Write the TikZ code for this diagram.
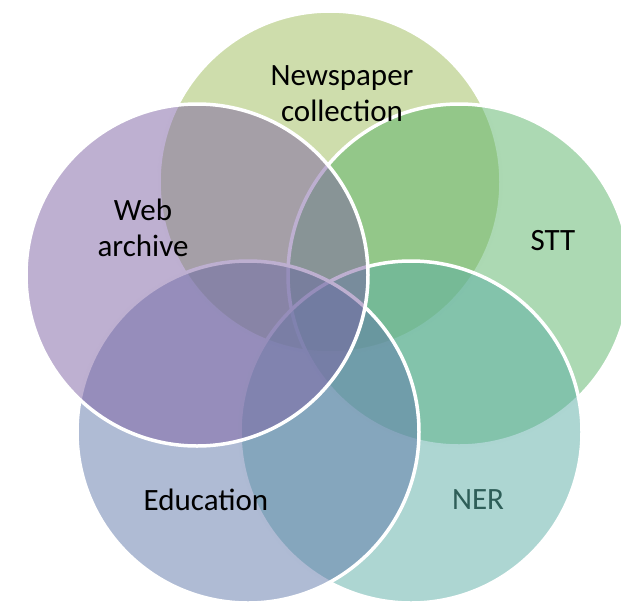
\documentclass[tikz,border=0pt]{standalone}
\usepackage{fontspec}
\setmainfont{Carlito}
\usepackage{tikz}
\definecolor{newsgreen}{RGB}{157,187,89}
\definecolor{sttgreen}{RGB}{89,179,103}
\definecolor{nerteal}{RGB}{91,173,165}
\definecolor{edublue}{RGB}{95,119,169}
\definecolor{webpurple}{RGB}{125,97,163}
\definecolor{nertext}{RGB}{46,94,88}
\tikzset{
	venn/.style={circle, inner sep=0pt, minimum size=342pt, fill=#1,
			fill opacity=.5, draw=white, line width=3.5pt},
	caption/.style={align=center, text=#1, font=\fontsize{31}{36}\selectfont}
}

\begin{document}
\begin{tikzpicture}[x=1pt,y=-1pt]
	\useasboundingbox (0,0) rectangle (621,603);
	\clip (0,0) rectangle (621,603);
	\foreach \name/\cx/\cy/\col in {news/330/182/newsgreen, stt/459/275/sttgreen,
			ner/411/432/nerteal, edu/248/432/edublue, web/197/275/webpurple}
	\node [venn=\col] (\name) at (\cx,\cy) {};
	\node [caption=black] (newslabel) at (342,94) {Newspaper\\collection};
	\node [caption=black] (weblabel) at (143,228) {Web\\archive};
	\node [caption=black] (sttlabel) at (553,241) {STT};
	\node [caption=black] (edulabel) at (206,500) {Education};
	\node [caption=nertext] (nerlabel) at (478,500) {NER};
\end{tikzpicture}
\end{document}
